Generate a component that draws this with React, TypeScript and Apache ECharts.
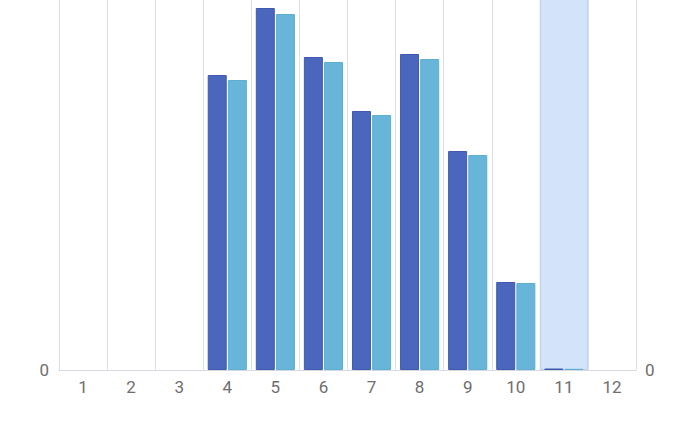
import React, { useEffect, useRef } from "react";
import * as echarts from "echarts";

const categories = ["1", "2", "3", "4", "5", "6", "7", "8", "9", "10", "11", "12"];
const seriesA = [null, null, null, 295, 362, 313, 259, 316, 219, 88, 1.5, null];
const seriesB = [null, null, null, 290, 356, 308, 255, 311, 215, 87, 1.2, null];
const yMax = 375;
const highlighted = [null, null, null, null, null, null, null, null, null, null, 400, null];

export default function App() {
  const ref = useRef<HTMLDivElement>(null);
  useEffect(() => {
    const chart = echarts.init(ref.current!, null, { renderer: "svg" });
    const labelStyle = { color: "#6e6e6e", fontSize: 17, fontFamily: "Roboto" };
    chart.setOption({
      animation: false,
      grid: { left: 59, right: 54, top: 0, bottom: 63 },
      xAxis: [
        {
          type: "category",
          data: categories,
          axisLine: { lineStyle: { color: "#d6d9df", width: 1 } },
          axisTick: { show: false },
          axisLabel: { ...labelStyle, margin: 8 },
          splitLine: { show: true, lineStyle: { color: "#dcdfe6", width: 1 } },
        },
        { type: "category", data: categories, show: false },
      ],
      yAxis: [
        {
          type: "value",
          min: 0,
          max: yMax,
          interval: 1000,
          position: "left",
          axisLine: { show: false },
          axisTick: { show: false },
          splitLine: { show: false },
          axisLabel: { ...labelStyle, margin: 10, showMaxLabel: false },
        },
        {
          type: "value",
          min: 0,
          max: yMax,
          interval: 1000,
          position: "right",
          axisLine: { show: false },
          axisTick: { show: false },
          splitLine: { show: false },
          axisLabel: { ...labelStyle, margin: 9, showMaxLabel: false },
        },
      ],
      series: [
        {
          type: "bar",
          xAxisIndex: 1,
          yAxisIndex: 0,
          data: highlighted,
          barWidth: "100%",
          clip: true,
          z: 0,
          itemStyle: { color: "#d3e4fa", borderColor: "#bccfe9", borderWidth: 1 },
          silent: true,
        },
        {
          type: "bar",
          data: seriesA,
          barWidth: 19,
          barGap: "6%",
          z: 2,
          itemStyle: { color: "#4a67bd", borderColor: "#3f5aae", borderWidth: 1 },
        },
        {
          type: "bar",
          data: seriesB,
          barWidth: 19,
          barGap: "6%",
          z: 2,
          itemStyle: { color: "#67b6d9", borderColor: "#5eaed2", borderWidth: 1 },
        },
      ],
    });
    return () => chart.dispose();
  }, []);
  return (
    <div style={{ position: "absolute", left: 0, top: 0, width: 690, height: 433, overflow: "hidden" }}>
      <div ref={ref} style={{ width: 690, height: 438, position: "absolute", left: 0, top: -5 }} />
    </div>
  );
}
